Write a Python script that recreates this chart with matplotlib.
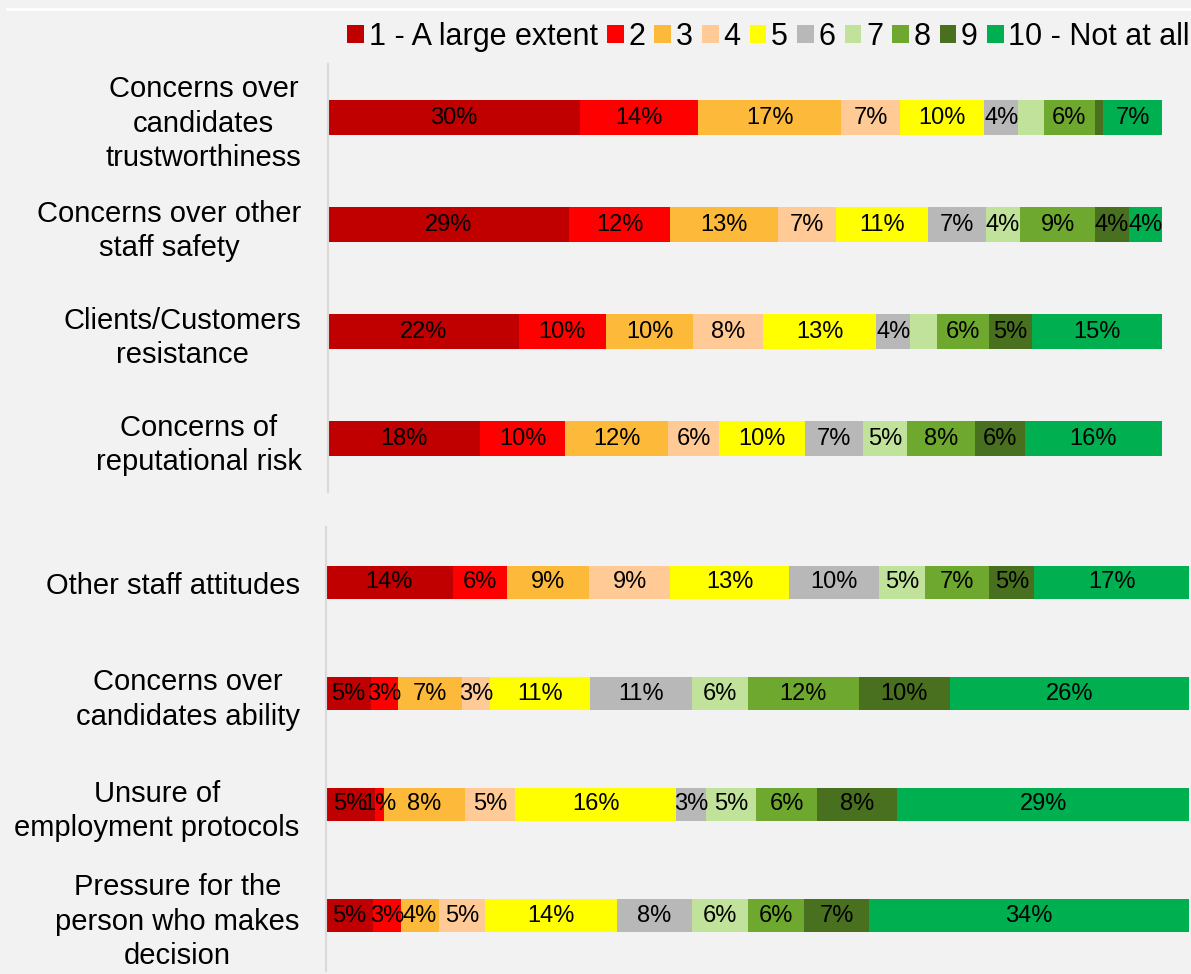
import numpy as np
import matplotlib.pyplot as plt
from matplotlib.lines import Line2D

plt.rcParams['font.family'] = ['Liberation Sans', 'DejaVu Sans']

levels = ['1 - A large extent', '2', '3', '4', '5', '6', '7', '8', '9', '10 - Not at all']
colors = ['#C00000', '#FF0000', '#FDB939', '#FFCA96', '#FFFF00',
          '#B8B8B8', '#C0E29A', '#6EA82E', '#48701F', '#00AF50']

# first group of reasons (% of respondents per rating)
top_labels = ['Concerns over\ncandidates\ntrustworthiness',
              'Concerns over other\nstaff safety',
              'Clients/Customers\nresistance',
              'Concerns of\nreputational risk']
top_values = np.array([
    [29.9, 14.1, 17.0, 7.0, 10.0, 4.0, 3.1, 6.0, 1.0, 7.0],
    [28.9, 12.1, 12.9, 7.0, 11.1, 6.9, 4.1, 9.0, 4.0, 4.0],
    [22.0, 10.0, 10.1, 8.0, 13.1, 3.9, 3.1, 6.0, 4.9, 15.0],
    [17.9, 10.0, 12.1, 6.0, 10.0, 6.9, 5.1, 8.0, 5.9, 16.1],
])

# second group of reasons
bottom_labels = ['Other staff attitudes',
                 'Concerns over\ncandidates ability',
                 'Unsure of\nemployment protocols',
                 'Pressure for the\nperson who makes\ndecision']
bottom_values = np.array([
    [14.0, 6.0, 9.1, 9.0, 13.1, 10.0, 5.1, 7.1, 5.0, 17.1],
    [4.9, 3.0, 7.0, 3.0, 11.0, 11.1, 6.1, 12.1, 10.0, 26.1],
    [4.9, 0.9, 8.0, 5.0, 16.0, 3.0, 5.0, 6.0, 8.0, 29.0],
    [5.0, 3.0, 4.0, 5.0, 14.0, 8.0, 6.0, 6.0, 6.9, 34.1],
])


def draw_panel(ax, labels, values, bar_h, min_label):
    # 100% stacked: each row scaled to its own total
    shares = values / values.sum(axis=1, keepdims=True) * 100
    y = np.arange(len(labels))
    left = np.zeros(len(labels))
    handles = []
    for j in range(len(levels)):
        bars = ax.barh(y, shares[:, j], left=left, height=bar_h,
                       color=colors[j], label=levels[j])
        texts = [f'{v:.0f}%' if v >= min_label else '' for v in values[:, j]]
        ax.bar_label(bars, labels=texts, label_type='center', fontsize=17)
        left += shares[:, j]
        handles.append(bars)
    ax.set_xlim(0, 100)
    ax.set_ylim(len(labels) - 0.5, -0.5)
    ax.set_xticks([])
    ax.set_yticks(y, labels, fontsize=21)
    for t in ax.get_yticklabels():
        t.set_multialignment('center')
        t.set_linespacing(1.3)
    ax.tick_params(axis='y', length=0, pad=19)
    for s in ['top', 'right', 'bottom']:
        ax.spines[s].set_visible(False)
    ax.spines['left'].set_color('#D9D9D9')
    ax.spines['left'].set_linewidth(1.5)
    ax.set_facecolor('none')
    return handles


W, H = 1191, 974
fig = plt.figure(figsize=(W / 100, H / 100), dpi=100, facecolor='#F2F2F2')

ax1 = fig.add_axes([328 / W, 1 - 492 / H, 834 / W, 428 / H])
ax2 = fig.add_axes([326 / W, 1 - 971 / H, 863 / W, 444 / H])

handles = draw_panel(ax1, top_labels, top_values, 0.32, 3.5)
draw_panel(ax2, bottom_labels, bottom_values, 0.306, 0)

fig.legend(handles, levels, loc='center right', bbox_to_anchor=(1190 / W, 1 - 37 / H),
           ncol=10, frameon=False, fontsize=22, handlelength=0.55, handleheight=0.55,
           handletextpad=0.15, columnspacing=0.3, borderaxespad=0, borderpad=0)

# thin white rule along the top edge
fig.add_artist(Line2D([7 / W, 1], [1 - 9 / H, 1 - 9 / H], color='white', lw=2,
                      transform=fig.transFigure))

fig.savefig('out.png', dpi=100, facecolor=fig.get_facecolor())
